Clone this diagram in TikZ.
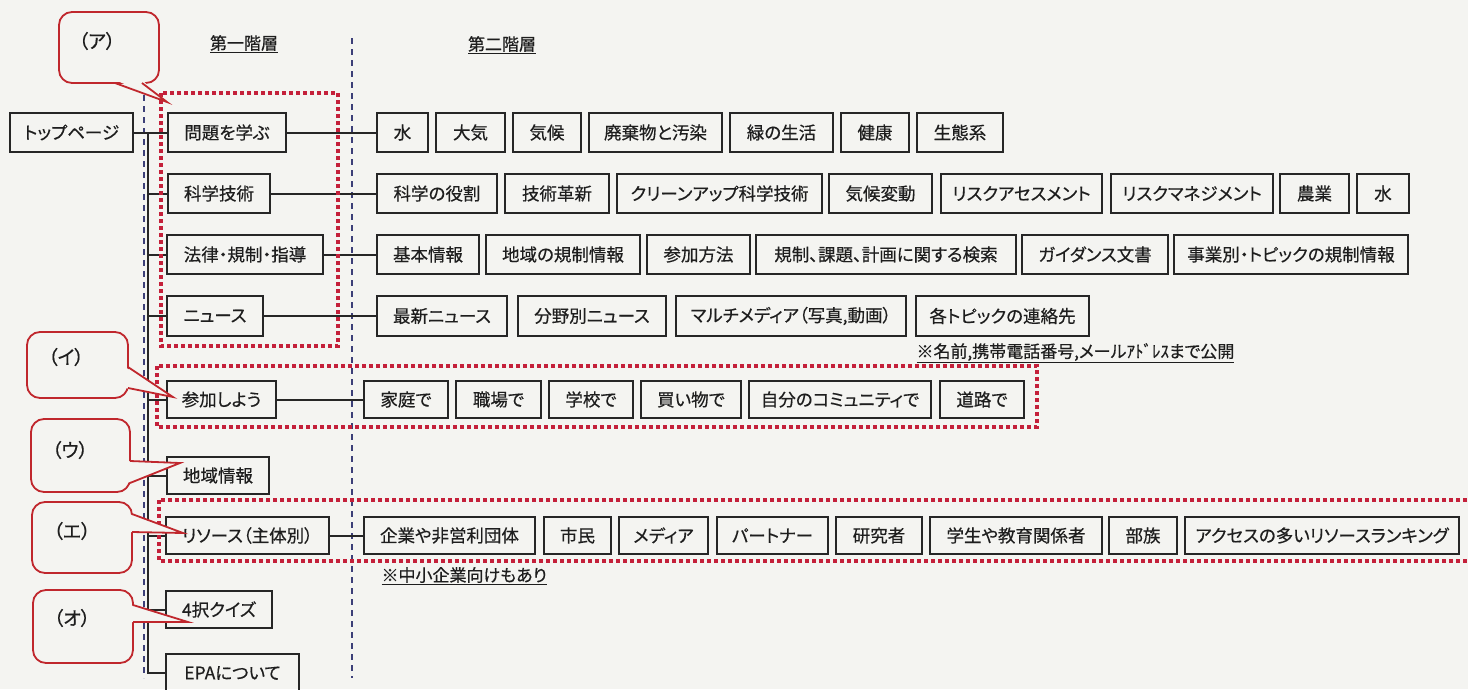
\documentclass[tikz,border=0pt]{standalone}
\usepackage{fontspec}
\setmainfont[RawFeature=+palt,FakeBold=0.5]{Noto Sans CJK JP}
\definecolor{bgc}{HTML}{F4F4F1}
\definecolor{boxc}{HTML}{262626}
\definecolor{redd}{HTML}{C4203A}
\definecolor{callr}{HTML}{C0272D}
\definecolor{navy}{HTML}{3C3F78}
\definecolor{txt}{HTML}{1E1E1E}
\newcommand\bx[6]{\node[bx,minimum width={#3-#2},minimum height={#5-#4}] (#1) at ({(#2+#3)/2},{(#4+#5)/2}) {#6};}
\begin{document}
\begin{tikzpicture}[x=1pt,y=-1pt,
  bx/.style={draw=boxc,line width=2.2pt,inner sep=0pt,text=txt,font=\fontsize{17.5}{20}\selectfont},
  ln/.style={draw=boxc,line width=2pt},
  navyd/.style={draw=navy,line width=1.3pt,dash pattern=on 6pt off 5pt},
  reddot/.style={draw=redd,line width=4pt,dash pattern=on 4pt off 3pt},
  callb/.style={draw=callr,line width=1.8pt,fill=bgc,rounded corners=13pt},
  callt/.style={draw=callr,line width=1.8pt,line join=miter},
  calltxt/.style={text=txt,font=\fontsize{19}{22}\selectfont},
  hdr/.style={text=txt,font=\fontsize{17}{20}\selectfont},
  note/.style={text=txt,font=\fontsize{17}{20}\selectfont,anchor=west}]
\fill[bgc] (0,0) rectangle (1468,689);
\clip (0,0) rectangle (1468,689);
% headers
\node[hdr] (h1) at (244,44) {\underline{第一階層}};
\node[hdr] (h2) at (502,45) {\underline{第二階層}};
% blue dashed guides
\coordinate (g1t) at (144,95); \coordinate (g1b) at (144,678);
\coordinate (g2t) at (352,38); \coordinate (g2b) at (352,678);
\draw[navyd] (g1t) -- (g1b);
\draw[navyd] (g2t) -- (g2b);
% top page and level 1
\bx{top}{10}{133}{113}{152}{トップページ}
\bx{la}{168}{286}{113}{152}{問題を学ぶ}
\bx{lb}{168}{270}{174}{213}{科学技術}
\bx{lc}{167}{323}{235}{274}{法律・規制・指導}
\bx{ld}{167}{263}{296}{336}{ニュース}
\bx{le}{167}{276}{381}{418}{参加しよう}
\bx{lf}{167}{269}{457}{494}{地域情報}
\bx{lg}{166}{329}{517}{554}{リソース（主体別）}
\bx{lh}{166}{272}{591}{628}{4択クイズ}
\bx{li}{166}{299}{654}{692}{EPAについて}
% row 1
\bx{a1}{377}{428}{113}{152}{水}
\bx{a2}{436}{505}{113}{152}{大気}
\bx{a3}{513}{581}{113}{152}{気候}
\bx{a4}{589}{722}{113}{152}{廃棄物と汚染}
\bx{a5}{730}{833}{113}{152}{緑の生活}
\bx{a6}{841}{909}{113}{152}{健康}
\bx{a7}{917}{1003}{113}{152}{生態系}
% row 2
\bx{b1}{377}{497}{174}{213}{科学の役割}
\bx{b2}{505}{609}{174}{213}{技術革新}
\bx{b3}{617}{822}{174}{213}{クリーンアップ科学技術}
\bx{b4}{829}{932}{174}{213}{気候変動}
\bx{b5}{941}{1102}{174}{213}{リスクアセスメント}
\bx{b6}{1111}{1273}{174}{213}{リスクマネジメント}
\bx{b7}{1280}{1349}{174}{213}{農業}
\bx{b8}{1357}{1409}{174}{213}{水}
% row 3
\bx{c1}{377}{479}{235}{274}{基本情報}
\bx{c2}{486}{640}{235}{274}{地域の規制情報}
\bx{c3}{647}{750}{235}{274}{参加方法}
\bx{c4}{756}{1016}{235}{274}{規制、課題、計画に関する検索}
\bx{c5}{1022}{1168}{235}{274}{ガイダンス文書}
\bx{c6}{1174}{1408}{235}{274}{事業別・トピックの規制情報}
% row 4
\bx{d1}{377}{507}{296}{336}{最新ニュース}
\bx{d2}{518}{666}{296}{336}{分野別ニュース}
\bx{d3}{676}{906}{296}{336}{マルチメディア（写真,動画）}
\bx{d4}{916}{1089}{296}{336}{各トピックの連絡先}
% row 5
\bx{e1}{364}{448}{381}{418}{家庭で}
\bx{e2}{456}{541}{381}{418}{職場で}
\bx{e3}{549}{633}{381}{418}{学校で}
\bx{e4}{641}{741}{381}{418}{買い物で}
\bx{e5}{749}{931}{381}{418}{自分のコミュニティで}
\bx{e6}{940}{1024}{381}{418}{道路で}
% row 6
\bx{f1}{364}{535}{517}{554}{企業や非営利団体}
\bx{f2}{544}{611}{517}{554}{市民}
\bx{f3}{619}{708}{517}{554}{メディア}
\bx{f4}{717}{828}{517}{554}{パートナー}
\bx{f5}{836}{922}{517}{554}{研究者}
\bx{f6}{930}{1102}{517}{554}{学生や教育関係者}
\bx{f7}{1109}{1177}{517}{554}{部族}
\bx{f8}{1185}{1459}{517}{554}{アクセスの多いリソースランキング}
% notes
\node[note] (n1) at (913,353) {\underline{※名前,携帯電話番号,メールｱﾄﾞﾚｽまで公開}};
\node[note] (n2) at (378,576) {\underline{※中小企業向けもあり}};
% connectors
\coordinate (trunk) at (148,132.5);
\draw[ln] (top.east) -- (la.west);
\draw[ln] (trunk) |- (li.west);
\foreach \n in {lb,lc,ld,le,lf,lg,lh}{\draw[ln] (trunk |- \n.west) -- (\n.west);}
\draw[ln] (la.east) -- (a1.west);
\draw[ln] (lb.east) -- (b1.west);
\draw[ln] (lc.east) -- (c1.west);
\draw[ln] (ld.east) -- (d1.west);
\draw[ln] (le.east) -- (e1.west);
\draw[ln] (lg.east) -- (f1.west);
% red dotted groups
\draw[reddot] (161,93) rectangle (338,346);
\draw[reddot] (157,366) rectangle (1037,427);
\draw[reddot] (159,500) rectangle (1480,561);
% callouts
\draw[callb] (59,12) rectangle (159,83);
\fill[bgc] (115,80) -- (167,102) -- (142,80) -- cycle;
\draw[callt] (115,83) -- (167,102) -- (142,83);
\node[calltxt] (ca) at (97,41) {（ア）};
\draw[callb] (27,332) rectangle (128,398);
\fill[bgc] (125,367) -- (173,397) -- (125,388) -- cycle;
\draw[callt] (128,367) -- (173,397) -- (128,388);
\node[calltxt] (cb) at (66,357) {（イ）};
\draw[callb] (31,419) rectangle (130,492);
\fill[bgc] (127,461) -- (180,463) -- (127,483) -- cycle;
\draw[callt] (130,461) -- (180,463) -- (130,483);
\node[calltxt] (cc) at (70,450) {（ウ）};
\draw[callb] (32,502) rectangle (132,573);
\fill[bgc] (129,514) -- (183,533) -- (129,532) -- cycle;
\draw[callt] (132,514) -- (183,533) -- (132,532);
\node[calltxt] (cd) at (72,531) {（エ）};
\draw[callb] (33,590) rectangle (133,663);
\fill[bgc] (130,605) -- (188,622) -- (130,622) -- cycle;
\draw[callt] (133,605) -- (188,622) -- (133,622);
\node[calltxt] (ce) at (72,618) {（オ）};
\end{tikzpicture}
\end{document}
